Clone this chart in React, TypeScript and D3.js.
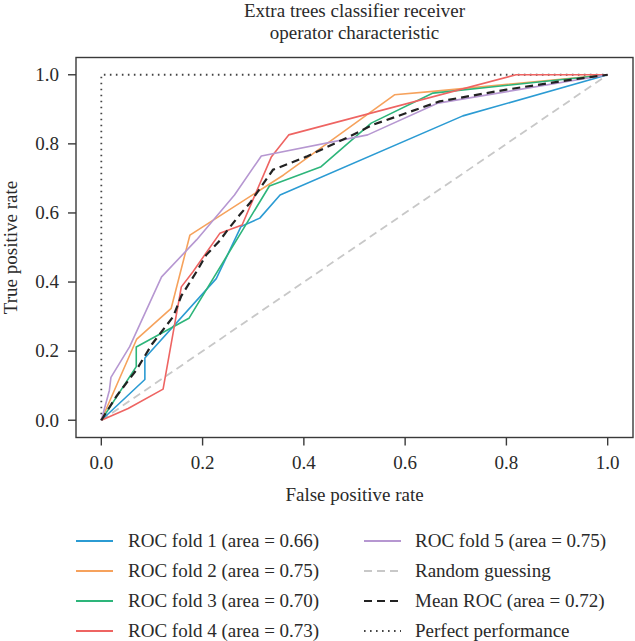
import React from 'react';
import * as d3 from 'd3';

const W = 635;
const H = 641;

const titleLines = ['Extra trees classifier receiver', 'operator characteristic'];
const xLabel = 'False positive rate';
const yLabel = 'True positive rate';
const tickValues = [0, 0.2, 0.4, 0.6, 0.8, 1.0];

const foldNames = ['ROC fold 1', 'ROC fold 2', 'ROC fold 3', 'ROC fold 4', 'ROC fold 5'];
const foldAreas = [0.66, 0.75, 0.7, 0.73, 0.75];
const foldColors = ['#2b9bd3', '#f6a25c', '#2db57a', '#ee6462', '#b697d1'];

const fpr1 = [0, 0.086, 0.086, 0.227, 0.276, 0.313, 0.353, 0.714, 1];
const tpr1 = [0, 0.118, 0.18, 0.41, 0.561, 0.585, 0.652, 0.881, 1];

const fpr2 = [0, 0.07, 0.138, 0.175, 0.36, 0.579, 0.655, 1];
const tpr2 = [0, 0.235, 0.324, 0.536, 0.71, 0.942, 0.952, 1];

const fpr3 = [0, 0.069, 0.069, 0.173, 0.332, 0.434, 0.533, 0.655, 1];
const tpr3 = [0, 0.155, 0.212, 0.295, 0.678, 0.734, 0.86, 0.947, 1];

const fpr4 = [0, 0.053, 0.122, 0.158, 0.181, 0.234, 0.278, 0.336, 0.37, 0.819, 1];
const tpr4 = [0, 0.034, 0.09, 0.386, 0.43, 0.541, 0.565, 0.763, 0.826, 1, 1];

const fpr5 = [0, 0.016, 0.019, 0.056, 0.119, 0.188, 0.263, 0.316, 0.526, 0.665, 1];
const tpr5 = [0, 0.087, 0.124, 0.213, 0.415, 0.522, 0.652, 0.765, 0.826, 0.918, 1];

const meanFpr = [0, 0.03, 0.069, 0.1, 0.142, 0.158, 0.188, 0.207, 0.234, 0.247, 0.273, 0.293, 0.339, 0.405, 0.49, 0.536, 0.668, 0.8, 0.93, 1];
const meanTpr = [0, 0.07, 0.145, 0.22, 0.3, 0.36, 0.43, 0.478, 0.52, 0.546, 0.594, 0.628, 0.725, 0.763, 0.821, 0.855, 0.923, 0.957, 0.986, 1];
const meanArea = 0.72;

const randomX = [0, 1];
const randomY = [0, 1];
const perfectX = [0, 0, 1];
const perfectY = [0, 1, 1];

const foldFprs = [fpr1, fpr2, fpr3, fpr4, fpr5];
const foldTprs = [tpr1, tpr2, tpr3, tpr4, tpr5];

const FONT = '"Liberation Serif", "Times New Roman", serif';
const TEXT = '#2a2a2a';
const AXIS = '#3a3a3a';

export default function App() {
  const left = 76, right = 633, top = 57.5, bottom = 437.5;
  const x = d3.scaleLinear().domain([-0.05, 1.05]).range([left, right]);
  const y = d3.scaleLinear().domain([-0.05, 1.05]).range([bottom, top]);
  const line = d3.line<[number, number]>().x(d => x(d[0])).y(d => y(d[1]));
  const pts = (xs: number[], ys: number[]) => xs.map((v, i) => [v, ys[i]] as [number, number]);
  const fmt = d3.format('.1f');
  const fmt2 = d3.format('.2f');
  const cx = (left + right) / 2;

  const legendLeft = [0, 1, 2, 3].map(i => ({
    label: `${foldNames[i]} (area = ${fmt2(foldAreas[i])})`,
    color: foldColors[i], dash: undefined as string | undefined, width: 1.8,
  }));
  const legendRight = [
    { label: `${foldNames[4]} (area = ${fmt2(foldAreas[4])})`, color: foldColors[4], dash: undefined as string | undefined, width: 1.8 },
    { label: 'Random guessing', color: '#c8c8c8', dash: '8,5', width: 1.8 },
    { label: `Mean ROC (area = ${fmt2(meanArea)})`, color: '#222', dash: '8,5', width: 2.2 },
    { label: 'Perfect performance', color: '#444', dash: '1.6,4.4', width: 1.8 },
  ];
  const rowY = [541, 571, 601, 631];

  return (
    <svg width={W} height={H} style={{ position: 'absolute', left: 0, top: 0, background: '#fff' }} fontFamily={FONT}>
      <rect x={0} y={0} width={W} height={H} fill="#fff" />
      {titleLines.map((t, i) => (
        <text key={t} x={cx} y={16.5 + i * 22} textAnchor="middle" fontSize={19} fill={TEXT}>{t}</text>
      ))}
      {/* curves */}
      <path d={line(pts(perfectX, perfectY)) || ''} fill="none" stroke="#444" strokeWidth={1.8} strokeDasharray="1.6,4.4" />
      <path d={line(pts(randomX, randomY)) || ''} fill="none" stroke="#c8c8c8" strokeWidth={1.8} strokeDasharray="8,5" />
      {foldFprs.map((f, i) => (
        <path key={i} d={line(pts(f, foldTprs[i])) || ''} fill="none" stroke={foldColors[i]} strokeWidth={1.6} strokeLinejoin="round" />
      ))}
      <path d={line(pts(meanFpr, meanTpr)) || ''} fill="none" stroke="#222" strokeWidth={2.2} strokeDasharray="8,5" />
      {/* frame */}
      <rect x={left} y={top} width={right - left} height={bottom - top} fill="none" stroke={AXIS} strokeWidth={1.4} />
      {tickValues.map(v => (
        <g key={'x' + v}>
          <line x1={x(v)} x2={x(v)} y1={bottom} y2={bottom + 8} stroke={AXIS} strokeWidth={1.4} />
          <text x={x(v)} y={469} textAnchor="middle" fontSize={19} fill={TEXT}>{fmt(v)}</text>
        </g>
      ))}
      {tickValues.map(v => (
        <g key={'y' + v}>
          <line x1={left - 8} x2={left} y1={y(v)} y2={y(v)} stroke={AXIS} strokeWidth={1.4} />
          <text x={59} y={y(v) + 6.3} textAnchor="end" fontSize={19} fill={TEXT}>{fmt(v)}</text>
        </g>
      ))}
      <text x={cx} y={501} textAnchor="middle" fontSize={19} fill={TEXT}>{xLabel}</text>
      <text transform={`translate(16.5, ${(top + bottom) / 2}) rotate(-90)`} textAnchor="middle" fontSize={19} fill={TEXT}>{yLabel}</text>
      {/* legend */}
      {legendLeft.map((e, i) => (
        <g key={'l' + i}>
          <line x1={76} x2={113} y1={rowY[i]} y2={rowY[i]} stroke={e.color} strokeWidth={e.width} strokeDasharray={e.dash} />
          <text x={128} y={rowY[i] + 6} fontSize={19} fill={TEXT}>{e.label}</text>
        </g>
      ))}
      {legendRight.map((e, i) => (
        <g key={'r' + i}>
          <line x1={364} x2={401} y1={rowY[i]} y2={rowY[i]} stroke={e.color} strokeWidth={e.width} strokeDasharray={e.dash} />
          <text x={415} y={rowY[i] + 6} fontSize={19} fill={TEXT}>{e.label}</text>
        </g>
      ))}
    </svg>
  );
}
